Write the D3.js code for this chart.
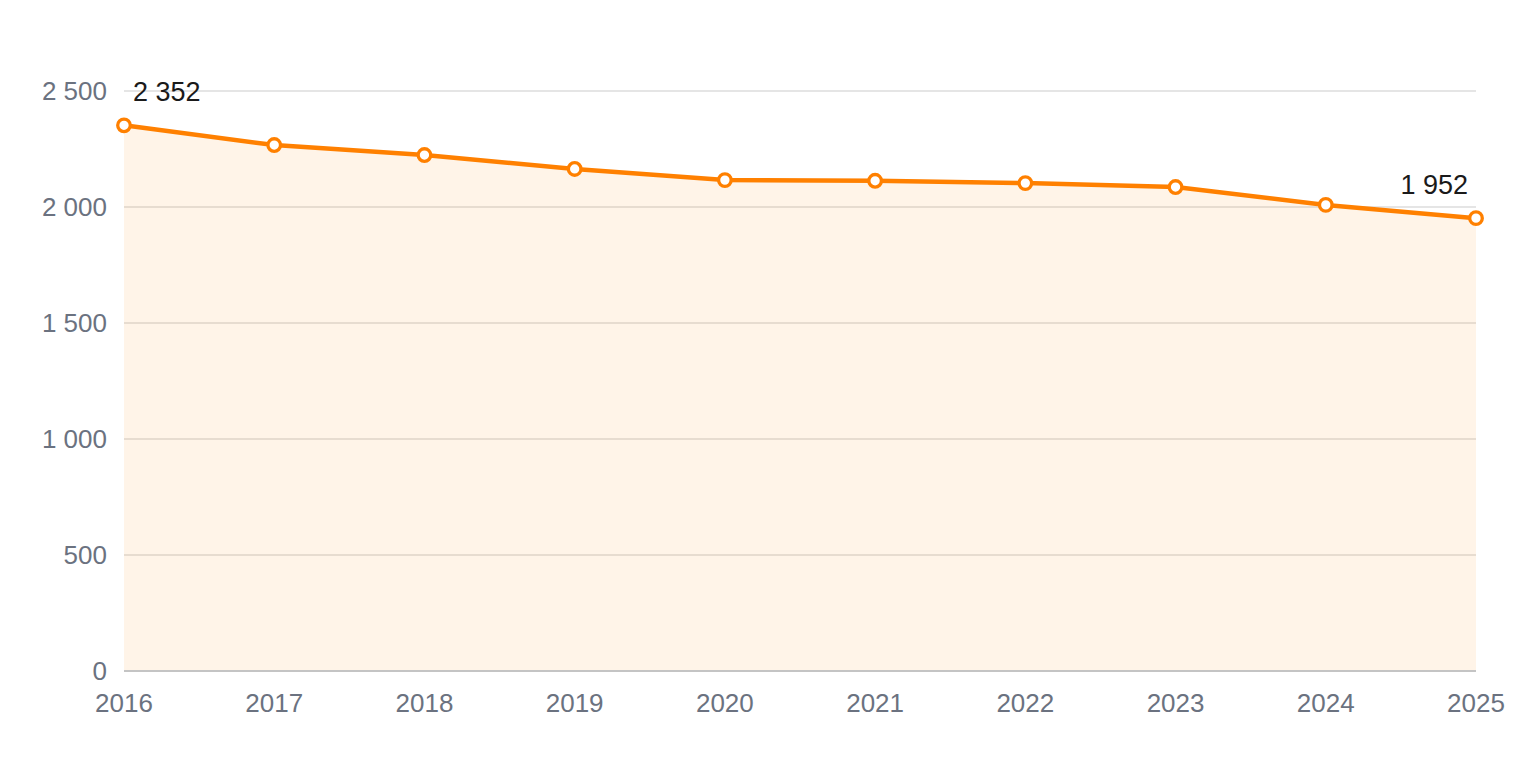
<!DOCTYPE html>
<html><head><meta charset="utf-8">
<script src="https://cdn.jsdelivr.net/npm/d3@7"></script>
<style>body{margin:0;background:#fff}svg{display:block;font-family:"Liberation Sans",Arial,sans-serif}</style>
</head><body>
<svg id="c" width="1520" height="760"></svg>
<script>
const years = [2016,2017,2018,2019,2020,2021,2022,2023,2024,2025];
const values = [2352,2267,2224,2164,2116,2113,2103,2086,2009,1952];
const yTicks = [0,500,1000,1500,2000,2500];
const labelIdx = [0,9];

const svg = d3.select("#c");
const m = {l:124, r:44, t:91, b:89};
const W = 1520, H = 760;
const x = d3.scalePoint().domain(years).range([m.l, W-m.r]);
const y = d3.scaleLinear().domain([0,2500]).range([H-m.b, m.t]);
const fmt = v => d3.format(",")(v).replace(/,/g," ");

// grid
svg.append("g").selectAll("line").data(yTicks.filter(d=>d>0)).join("line")
  .attr("x1",m.l).attr("x2",W-m.r).attr("y1",d=>y(d)).attr("y2",d=>y(d))
  .attr("stroke","#dcdcdc").attr("stroke-width",1.3);

// area
const data = years.map((yr,i)=>({yr, v:values[i]}));
svg.append("path").datum(data)
  .attr("d", d3.area().x(d=>x(d.yr)).y0(y(0)).y1(d=>y(d.v)))
  .attr("fill","#ff8000").attr("fill-opacity",0.09);

// baseline
svg.append("line").attr("x1",m.l).attr("x2",W-m.r).attr("y1",y(0)).attr("y2",y(0))
  .attr("stroke","#c4c4c4").attr("stroke-width",2);

// y labels
svg.append("g").selectAll("text").data(yTicks).join("text")
  .attr("x",107).attr("y",d=>y(d)).attr("dy","0.35em").attr("text-anchor","end")
  .attr("fill","#6b7280").attr("font-size",26).text(fmt);

// x labels
svg.append("g").selectAll("text").data(years).join("text")
  .attr("x",d=>x(d)).attr("y",y(0)+32).attr("dy","0.35em").attr("text-anchor","middle")
  .attr("fill","#6b7280").attr("font-size",26).text(d=>d);

// line
svg.append("path").datum(data)
  .attr("d", d3.line().x(d=>x(d.yr)).y(d=>y(d.v)))
  .attr("fill","none").attr("stroke","#ff8000").attr("stroke-width",4.5).attr("stroke-linejoin","round");

// points
svg.append("g").selectAll("circle").data(data).join("circle")
  .attr("cx",d=>x(d.yr)).attr("cy",d=>y(d.v)).attr("r",6.3)
  .attr("fill","#fff").attr("stroke","#ff8000").attr("stroke-width",3.3);

// data labels
svg.append("g").selectAll("text").data(labelIdx).join("text")
  .attr("x",i=> i===0 ? x(years[i])+9 : x(years[i])-8)
  .attr("y",i=>y(values[i])-24)
  .attr("text-anchor",i=> i===0 ? "start":"end")
  .attr("fill","#1a1a1a").attr("font-size",27)
  .text(i=>fmt(values[i]));
</script>
</body></html>
